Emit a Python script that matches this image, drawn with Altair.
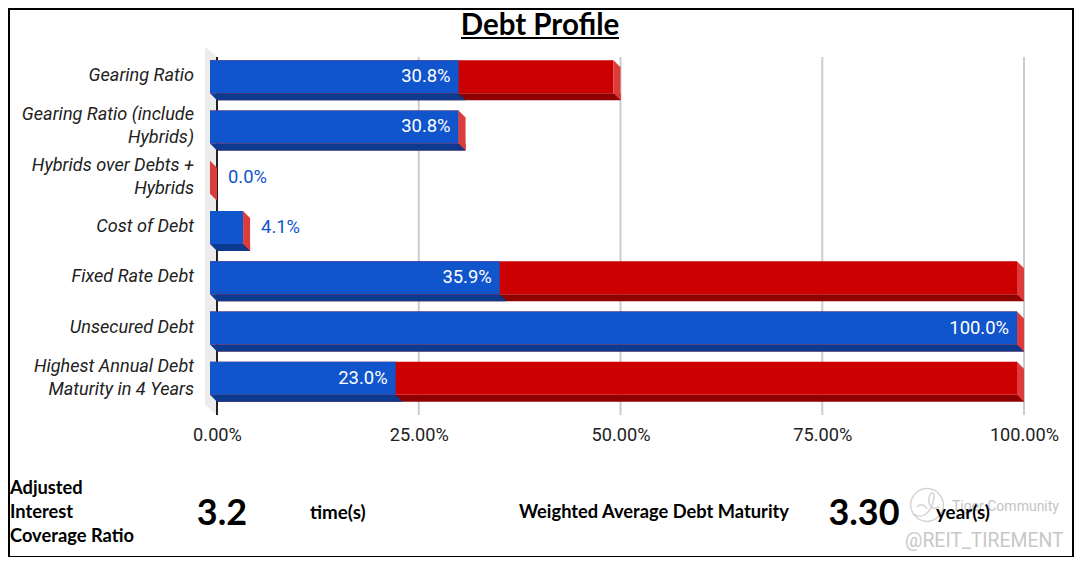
import altair as alt
import pandas as pd

categories = ["Gearing Ratio", "Gearing Ratio (include\nHybrids)", "Hybrids over Debts +\nHybrids",
              "Cost of Debt", "Fixed Rate Debt", "Unsecured Debt", "Highest Annual Debt\nMaturity in 4 Years"]
blue_values = [30.8, 30.8, 0.0, 4.1, 35.9, 100.0, 23.0]
total_values = [50.0, 30.8, 0.0, 4.1, 100.0, 100.0, 100.0]
grid_ticks = [0, 25, 50, 75, 100]

BLUE, DBLUE, RED, DRED, SIDE = "#1155cc", "#0c3a8e", "#cc0000", "#8f0000", "#dd3c3c"
LEFT, TOP, W, H = 217, 55, 807, 352
df = pd.DataFrame({"cat": categories, "blue": blue_values, "total": total_values, "zero": 0})
df["label"] = [f"{v:.1f}%" for v in blue_values]
df_bar = df[df.total > 0]
df_in = df[df.blue >= 10]
df_out = df[df.blue < 10]
df_one_line = df[~df.cat.str.contains("\n")]
df_two_line = df[df.cat.str.contains("\n")]
one = pd.DataFrame({"a": [0]})
df_grid = pd.DataFrame({"t": grid_ticks})

x = alt.X("zero:Q", scale=alt.Scale(domain=[0, 100], nice=False, zero=False),
          axis=alt.Axis(values=grid_ticks, labelExpr="format(datum.value,'.2f')+'%'", grid=False, domain=False,
                        ticks=False, title=None, labelFont="Roboto", labelFontSize=18.2, labelColor="#222222",
                        labelPadding=19, labelFlush=False))
y = alt.Y("cat:N", sort=categories, scale=alt.Scale(paddingInner=0, paddingOuter=0),
          axis=alt.Axis(labels=False, domain=False, ticks=False, title=None))


def bar(data, start, end, color, h, yo, xo=0, x2o=0):
    return alt.Chart(data).mark_bar(height=h, yOffset=yo, xOffset=xo, x2Offset=x2o, color=color, cornerRadius=0).encode(
        x=alt.X(start + ":Q"), x2=alt.X2(end), y=y)


def shape(data, field, path, color):
    return alt.Chart(data).mark_point(shape=path, size=4, filled=True, color=color, opacity=1, strokeWidth=0).encode(
        x=alt.X(field + ":Q"), y=y)


def text(s, px, py, size, font="Lato", weight="bold", color="#000000", align="left", **kw):
    return alt.Chart(one).mark_text(font=font, fontSize=size, fontWeight=weight, color=color, align=align,
                                    baseline="middle", **kw).encode(
        x=alt.value(px - LEFT), y=alt.value(py - TOP), text=alt.value(s))


def box(x0, x1, y0, y1, **kw):
    return alt.Chart(one).mark_rect(**kw).encode(
        x=alt.value(x0 - LEFT), x2=alt.value(x1 - LEFT), y=alt.value(y0 - TOP), y2=alt.value(y1 - TOP))


def cat_labels(data, dy):
    return alt.Chart(data).mark_text(font="Roboto", fontStyle="italic", fontSize=18.1, color="#222222", align="right",
                                     baseline="middle", lineBreak="\n", lineHeight=23, dy=dy).encode(
        x=alt.value(194 - LEFT), y=y, text="cat:N")


axis_base = alt.Chart(df).mark_point(opacity=0).encode(x=x, y=y)

wall = alt.Chart(df_grid[df_grid.t == 0]).mark_point(
    shape="M-12,-8 L0,2 L0,360 L-12,350 Z", size=4, filled=True, color="#ececec", opacity=1, strokeWidth=0
).encode(x=alt.X("t:Q"), y=alt.value(0))

grid = alt.Chart(df_grid).mark_rule(strokeWidth=2).encode(
    x=alt.X("t:Q"), y=alt.value(2), y2=alt.value(360),
    color=alt.condition("datum.t === 0", alt.value("#222222"), alt.value("#cccccc")))

layers = [
    axis_base, wall, grid,
    cat_labels(df_one_line, -4),
    cat_labels(df_two_line, -15),
    bar(df_bar, "zero", "total", DRED, 7, 16.5),
    bar(df_bar, "zero", "blue", DBLUE, 7, 16.5, 0, -7),
    shape(df_bar, "zero", "M-7,13 L0,13 L0,20 Z", DBLUE),
    shape(df_bar, "blue", "M-7,13 L0,20 L-7,20 Z", DBLUE),
    bar(df_bar, "zero", "total", RED, 33, -3.5, -7, -7),
    bar(df_bar, "zero", "blue", BLUE, 33, -3.5, -7, -7),
    shape(df, "total", "M-7,-20 L0,-13 L0,20 L-7,13 Z", SIDE),
    alt.Chart(df_in).mark_text(font="Roboto", fontSize=18.4, color="white", align="right", dx=-15, dy=-4).encode(
        x=alt.X("blue:Q"), y=y, text="label:N"),
    alt.Chart(df_out).mark_text(font="Roboto", fontSize=18.4, color=BLUE, align="left", dx=11, dy=-4).encode(
        x=alt.X("blue:Q"), y=y, text="label:N"),
    text("Debt Profile", 540, 26, 29.5, align="center"),
    box(461, 619, 37, 39, color="#000000"),
    text("Adjusted", 10, 489, 18.3),
    text("Interest", 10, 513, 18.3),
    text("Coverage Ratio", 10, 537, 18.3),
    text("3.2", 222, 514, 36, align="center"),
    text("time(s)", 310, 513, 18.8),
    text("Weighted Average Debt Maturity", 519, 513, 18.3),
    text("3.30", 864, 514, 36, align="center"),
    alt.Chart(one).mark_point(size=1075, color="#c4c4c4", strokeWidth=1.5, shape="circle").encode(
        x=alt.value(927 - LEFT), y=alt.value(505 - TOP)),
    alt.Chart(one).mark_point(size=4, color="#c4c4c4", strokeWidth=1.5,
                              shape="M-13,9 C-5,15 5,8 7,-8 C8,-14 3,-13 2,-7 C1,-1 4,6 12,2 M-10,2 C-6,-2 -2,0 0,4").encode(
        x=alt.value(927 - LEFT), y=alt.value(505 - TOP)),
    text("Tiger Community", 952, 507, 14, font="Roboto", weight="normal", color="#c4c4c4"),
    text("@REIT_TIREMENT", 905, 541, 19.4, font="Roboto", weight="normal", color="#c8c8c8"),
    text("year(s)", 936, 513, 18.8),
    box(9, 1073, 9, 557, fill="transparent", stroke="#000000", strokeWidth=2),
]

chart = alt.layer(*layers).properties(
    width=W, height=H,
    padding={"left": LEFT - 8, "top": TOP - 8, "right": 50, "bottom": 150},
    autosize=alt.AutoSizeParams(type="none"),
    background="white",
).configure_view(stroke=None)

chart.save("out.html", embed_options={"renderer": "svg", "actions": False})
